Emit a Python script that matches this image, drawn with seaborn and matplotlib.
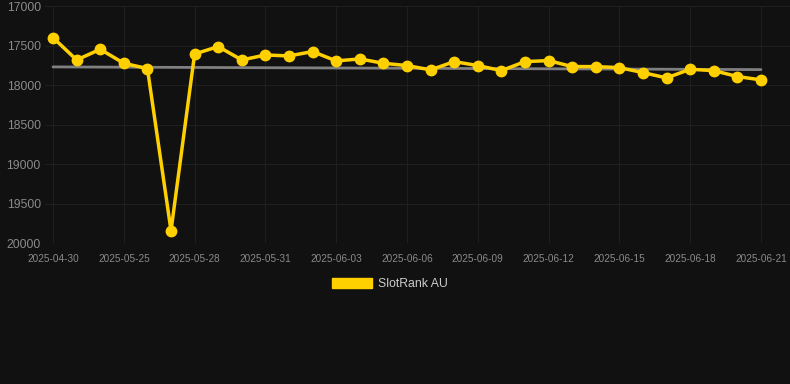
import seaborn as sns
import matplotlib.pyplot as plt
import pandas as pd
from matplotlib.patches import Patch

dates = ["2025-04-30", "2025-05-23", "2025-05-24", "2025-05-25", "2025-05-26",
         "2025-05-27", "2025-05-28", "2025-05-29", "2025-05-30", "2025-05-31",
         "2025-06-01", "2025-06-02", "2025-06-03", "2025-06-04", "2025-06-05",
         "2025-06-06", "2025-06-07", "2025-06-08", "2025-06-09", "2025-06-10",
         "2025-06-11", "2025-06-12", "2025-06-13", "2025-06-14", "2025-06-15",
         "2025-06-16", "2025-06-17", "2025-06-18", "2025-06-19", "2025-06-20",
         "2025-06-21"]
rank = [17400, 17683, 17548, 17725, 17792, 19844, 17607, 17514, 17683, 17620,
        17632, 17577, 17695, 17670, 17725, 17754, 17809, 17704, 17754, 17818,
        17704, 17691, 17767, 17767, 17780, 17843, 17910, 17801, 17818, 17893,
        17935]
trend = [17771, 17805]
yticks = [17000, 17500, 18000, 18500, 19000, 19500, 20000]

bg = "#111111"
gold = "#ffd000"

df = pd.DataFrame({"pos": range(len(dates)), "date": dates, "rank": rank})
trend_df = pd.DataFrame({"pos": [0, len(dates) - 1], "rank": trend})

sns.set_style("dark")
plt.rcParams["font.family"] = ["Liberation Sans", "DejaVu Sans"]

fig = plt.figure(figsize=(7.9, 3.84), dpi=100, facecolor=bg)
ax = fig.add_axes([45 / 790, 1 - 243 / 384, 745 / 790, 237 / 384])
ax.set_facecolor(bg)

sns.lineplot(data=trend_df, x="pos", y="rank", ax=ax, color="#808080", lw=2)
sns.lineplot(data=df, x="pos", y="rank", ax=ax, color=gold, lw=2.5,
             marker="o", markersize=8.5, markeredgewidth=0, zorder=3)

ax.set_ylim(20000, 17000)
ax.set_xlim(-0.34, 31.23)
ax.set_yticks(yticks)
ax.set_xticks(df["pos"][::3])
ax.set_xticklabels(df["date"][::3])
ax.tick_params(axis="y", colors="#8a8a8a", labelsize=8.8, length=0, pad=3)
ax.tick_params(axis="x", colors="#8a8a8a", labelsize=7.2, length=0, pad=8)
ax.grid(True, color="#1f1f1f", lw=0.8)
for s in ax.spines.values():
    s.set_visible(False)
ax.set_xlabel("")
ax.set_ylabel("")

fig.legend(handles=[Patch(facecolor=gold, edgecolor=gold, label="SlotRank AU")],
           loc="center", bbox_to_anchor=(390 / 790, 1 - 284 / 384),
           frameon=False, handlelength=3.3, handleheight=0.9,
           labelcolor="#cccccc", fontsize=8.8, handletextpad=0.5)

fig.savefig("out.png", dpi=100, facecolor=bg)
